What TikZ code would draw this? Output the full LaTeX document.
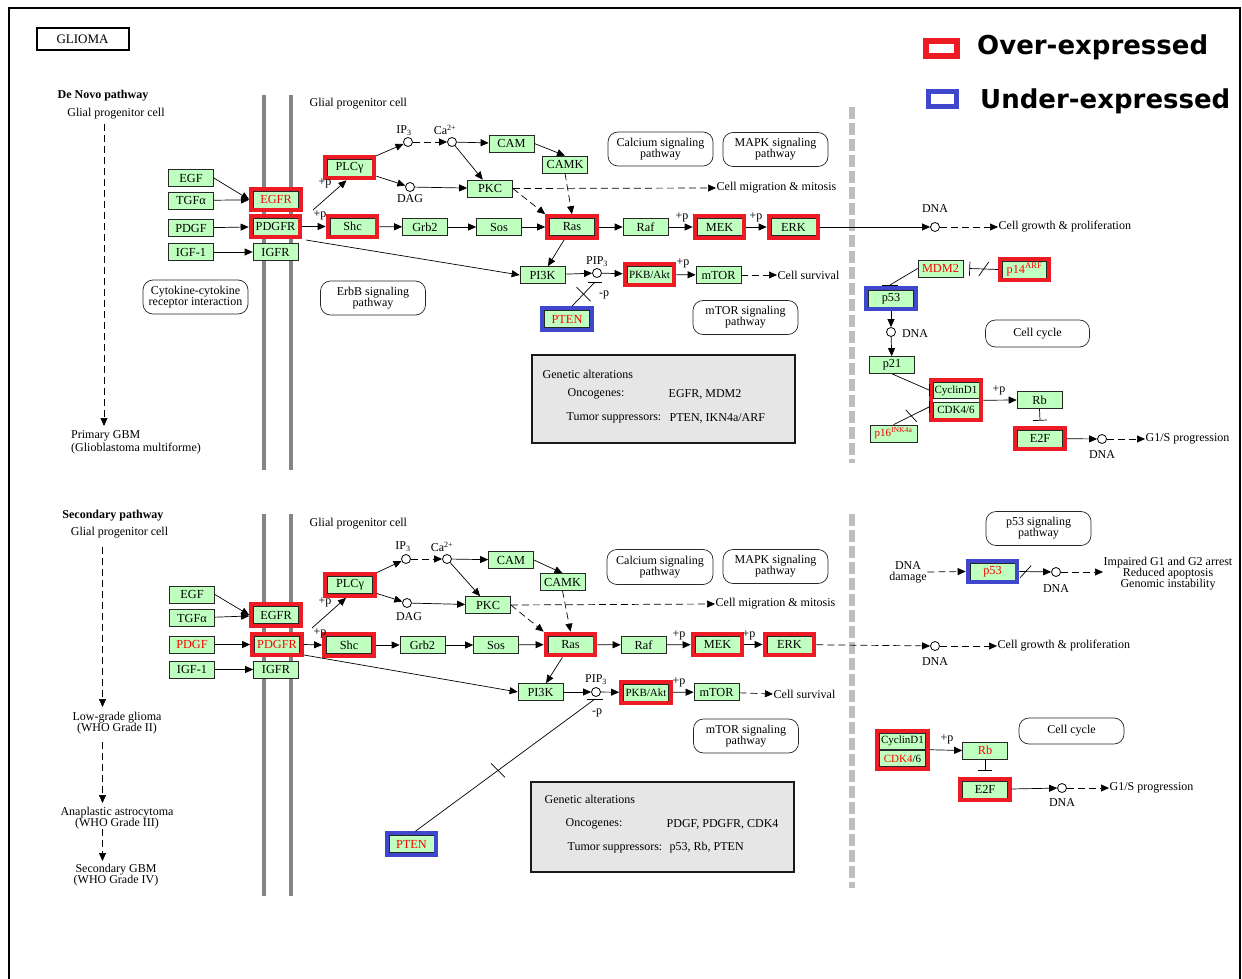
\documentclass[tikz,border=0pt]{standalone}
\usepackage{fontspec}
\setmainfont{Liberation Serif}
\newfontfamily\legfont{DejaVu Sans}
\usetikzlibrary{arrows.meta,fit}
\definecolor{kgreen}{HTML}{BFFFBF}
\definecolor{kred}{HTML}{ED1C24}
\definecolor{kblue}{HTML}{3F48CC}
\definecolor{ktxt}{HTML}{FF0000}
\definecolor{kmem}{HTML}{858585}
\definecolor{kdash}{HTML}{BEBEBE}
\definecolor{kbox}{HTML}{E6E6E6}
\newcommand{\gf}{\fontsize{12.3}{12}\selectfont}
\newcommand{\gfs}{\fontsize{11}{11}\selectfont}
\newcommand{\tf}{\fontsize{12}{12}\selectfont}
\newcommand{\tft}{\fontsize{12}{11}\selectfont}
\tikzset{
  gene/.style={draw=black!85, fill=kgreen, minimum width=45pt, minimum height=17pt, inner sep=0pt, font=\gf, line width=0.7pt},
  hlr/.style={draw=kred, line width=4pt, inner sep=2pt},
  hlb/.style={draw=kblue, line width=4pt, inner sep=2pt},
  pway/.style={draw=black!85, rounded corners=10pt, minimum width=105pt, minimum height=34pt, align=center, font=\tft, line width=0.7pt, inner sep=1pt},
  cpd/.style={circle, draw, fill=white, minimum size=9pt, inner sep=0pt, line width=0.8pt},
  act/.style={-{Triangle[length=8pt,width=7pt]}, line width=0.7pt},
  dact/.style={act, dash pattern=on 7pt off 4pt},
  tline/.style={line width=0.7pt},
  inh/.style={-{Bar[width=14pt]}, line width=0.7pt},
  lbl/.style={font=\tf, inner sep=0.5pt},
  memb/.style={draw=kmem, line width=4pt},
  sepline/.style={draw=kdash, line width=6pt, dash pattern=on 12pt off 4pt},
  gabox/.style={draw=black!90, line width=2pt, fill=kbox, minimum width=263pt, minimum height=88pt, inner sep=0pt},
  legtxt/.style={font=\legfont\bfseries\fontsize{26}{26}\selectfont, inner sep=0pt, anchor=west}
}
\begin{document}
\begin{tikzpicture}[x=1pt,y=-1pt]
\useasboundingbox (0,0) rectangle (1242,979);
\fill[white] (0,0) rectangle (1242,979);
\draw[line width=1.5pt] (9,979) -- (9,8) -- (1240,8) -- (1240,979);

% ---------- title and legend ----------
\node[draw, line width=2pt, minimum width=92pt, minimum height=22pt, inner sep=0pt, font=\fontsize{13}{13}\selectfont] (title) at (82.5,39.5) {GLIOMA};
\node[draw=kred, line width=6pt, minimum width=31pt, minimum height=15pt, inner sep=0pt] (legR) at (941.5,48.5) {};
\node[legtxt] (legRt) at (977,47) {Over-expressed};
\node[draw=kblue, line width=4.7pt, minimum width=28pt, minimum height=15pt, inner sep=0pt] (legB) at (942.5,99) {};
\node[legtxt] (legBt) at (980,101) {Under-expressed};

% =================== DE NOVO PATHWAY ===================
\node[font=\bfseries\tf, inner sep=0pt] (aHead) at (103,96) {De Novo pathway};
\node[lbl] (aGlial) at (116,114) {Glial progenitor cell};
\coordinate (aL1) at (104,124);
\coordinate (aL2) at (104,426);
\draw[dact] (aL1) -- (aL2);
\node[font=\fontsize{12}{13}\selectfont, inner sep=0pt, anchor=north west, align=left] (aPrim) at (71,430) {Primary GBM\\(Glioblastoma multiforme)};

\draw[memb] (264,95) -- (264,470);
\draw[memb] (291,95) -- (291,470);
\draw[sepline] (852,107) -- (852,463);
\node[lbl, anchor=west] (aGlial2) at (309,104) {Glial progenitor cell};

% pathway boxes
\node[pway] (aCyt) at (195.5,297) {Cytokine-cytokine\\receptor interaction};
\node[pway] (aErbB) at (373,298) {ErbB signaling\\pathway};
\node[pway] (aCal) at (660.5,149) {Calcium signaling\\pathway};
\node[pway] (aMAPK) at (775.5,149.5) {MAPK signaling\\pathway};
\node[pway] (amTORs) at (745.5,317.5) {mTOR signaling\\pathway};
\node[pway, minimum height=27pt, minimum width=104pt] (aCC) at (1037.5,333.5) {Cell cycle};

% genetic alterations
\node[gabox] (aGA) at (663.5,399) {};
\node[lbl, anchor=west] (aGA1) at (542,374) {Genetic alterations};
\node[lbl, anchor=west] (aGA2) at (567,394) {Oncogenes:};
\node[lbl, anchor=west] (aGA3) at (668,394) {EGFR, MDM2};
\node[lbl, anchor=west] (aGA4) at (566,418) {Tumor suppressors:};
\node[lbl, anchor=west] (aGA5) at (669,418) {PTEN, IKN4a/ARF};

% genes
\node[gene] (aEGF) at (191,178) {EGF};
\node[gene] (aTGF) at (191,200.5) {TGFα};
\node[gene] (aPDGF) at (191,228) {PDGF};
\node[gene] (aIGF) at (191,252) {IGF-1};
\node[gene, text=ktxt] (aEGFR) at (276,199.5) {EGFR};
\node[gene] (aPDGFR) at (275.5,226.5) {PDGFR};
\node[gene] (aIGFR) at (275.5,252) {IGFR};
\node[gene] (aPLC) at (349.5,167.5) {PLCγ};
\node[gene] (aShc) at (352.5,226.5) {Shc};
\node[gene] (aGrb2) at (425,227) {Grb2};
\node[gene] (aSos) at (499,227) {Sos};
\node[gene] (aRas) at (572,227) {Ras};
\node[gene] (aRaf) at (645.5,227) {Raf};
\node[gene] (aMEK) at (719.5,227) {MEK};
\node[gene] (aERK) at (793.5,227) {ERK};
\node[gene] (aCAM) at (511.5,143.5) {CAM};
\node[gene] (aCAMK) at (565,164.5) {CAMK};
\node[gene] (aPKC) at (490,188.5) {PKC};
\node[gene] (aPI3K) at (542.5,275) {PI3K};
\node[gene, font=\gfs] (aPKB) at (649.5,274.5) {PKB/Akt};
\node[gene] (amTOR) at (718.5,275) {mTOR};
\node[gene, text=ktxt] (aPTEN) at (567,319) {PTEN};
\node[gene, text=ktxt] (aMDM2) at (940.5,268.5) {MDM2};
\node[gene, text=ktxt, minimum width=44pt] (ap14) at (1024.5,269.5) {p14\textsuperscript{ARF}};
\node[gene] (ap53) at (891,298.5) {p53};
\node[gene] (ap21) at (892,365) {p21};
\node[gene, font=\gfs, minimum width=46pt, minimum height=16pt] (aCyc) at (956,390.5) {CyclinD1};
\node[gene, font=\gfs, minimum width=46pt, minimum height=16pt] (aCDK) at (956,410) {CDK4/6};
\node[gene] (aRb) at (1039.5,400) {Rb};
\node[gene] (aE2F) at (1040,438.5) {E2F};
\node[gene, text=ktxt, font=\gfs, minimum width=47pt] (ap16) at (893.5,433.5) {p16\textsuperscript{INK4a}};

% highlights
\node[hlr, fit=(aEGFR)] (aEGFRh) {};
\node[hlr, fit=(aPDGFR)] (aPDGFRh) {};
\node[hlr, fit=(aPLC)] (aPLCh) {};
\node[hlr, fit=(aShc)] (aShch) {};
\node[hlr, fit=(aRas)] (aRash) {};
\node[hlr, fit=(aMEK)] (aMEKh) {};
\node[hlr, fit=(aERK)] (aERKh) {};
\node[hlr, fit=(aPKB)] (aPKBh) {};
\node[hlb, fit=(aPTEN)] (aPTENh) {};
\node[hlr, fit=(ap14)] (ap14h) {};
\node[hlb, fit=(ap53)] (ap53h) {};
\node[hlr, fit=(aCyc)(aCDK)] (aCych) {};
\node[hlr, fit=(aE2F)] (aE2Fh) {};

% compounds
\node[cpd] (aIP3) at (408,142) {};
\node[cpd] (aCa) at (452,142) {};
\node[cpd] (aDAG) at (410,187) {};
\node[cpd] (aPIP3) at (597,273) {};
\node[cpd] (aDNA1) at (935,227) {};
\node[cpd] (aDNA2) at (891,332) {};
\node[cpd] (aDNA3) at (1102,439) {};
\node[lbl] (aIP3l) at (404,131) {IP\textsubscript{3}};
\node[lbl] (aCal2) at (445,130) {Ca\textsuperscript{2+}};
\node[lbl] (aDAGl) at (410,199) {DAG};
\node[lbl] (aPIP3l) at (597,262) {PIP\textsubscript{3}};
\node[lbl] (aDNA1l) at (935,209) {DNA};
\node[lbl] (aDNA2l) at (915,334) {DNA};
\node[lbl] (aDNA3l) at (1102,455) {DNA};

% phosphorylation labels
\node[lbl] (ap1) at (325,183) {+p};
\node[lbl] (ap2) at (320,215) {+p};
\node[lbl] (ap3) at (682,217) {+p};
\node[lbl] (ap4) at (756,217) {+p};
\node[lbl] (ap5) at (683,263) {+p};
\node[lbl] (ap6) at (999,390) {+p};
\node[lbl] (amp) at (604,295) {-p};

% outcome texts
\node[lbl, anchor=west] (aMig) at (716,188) {Cell migration \& mitosis};
\node[lbl, anchor=west] (aGrow) at (998,227) {Cell growth \& proliferation};
\node[lbl, anchor=west] (aSurv) at (777,275) {Cell survival};
\node[lbl, anchor=west] (aG1S) at (1145,439) {G1/S progression};

% edges
\draw[act] (aEGF.east) -- (aEGFRh.west);
\draw[act] (aTGF) -- (aEGFRh);
\draw[act] (aPDGF) -- (aPDGFRh);
\draw[act] (aIGF) -- (aIGFR);
\coordinate (aRTK) at (313,210);
\draw[act] (aRTK) -- ([xshift=-3pt]aPLCh.south);
\draw[act] (aPDGFRh.east) -- (aShch.west);
\coordinate (aRTK2) at (306,240);
\draw[act] (aRTK2) -- (aPI3K.west);
\draw[act] (aPLCh) -- (aIP3);
\draw[act] (aPLCh) -- (aDAG);
\draw[dact] (aIP3) -- (aCa);
\draw[act] (aCa) -- (aCAM);
\draw[act] (aCa) -- (aPKC);
\draw[act] (aDAG) -- (aPKC);
\draw[act] (aCAM.east) -- (aCAMK.north);
\draw[dact] (aCAMK.south) -- (aRash.north);
\draw[dact] (aPKC.east) -- (aRash.north west);
\draw[dact] (aPKC.east) -- (aMig.west);
\draw[act] (aShch) -- (aGrb2);
\draw[act] (aGrb2) -- (aSos);
\draw[act] (aSos) -- (aRash);
\draw[act] (aRash) -- (aRaf);
\draw[act] (aRaf) -- (aMEKh);
\draw[act] (aMEKh) -- (aERKh);
\draw[act] (aERKh) -- (aDNA1);
\draw[dact] (aDNA1) -- (aGrow.west);
\draw[act] (aRash) -- (aPI3K);
\draw[act] (aPI3K) -- (aPIP3);
\draw[act] (aPIP3) -- (aPKBh);
\draw[act] (aPKBh) -- (amTOR);
\draw[dact] (amTOR) -- (aSurv.west);
% PTEN inhibition
\coordinate (aPbar) at (595,282);
\draw[tline] ([xshift=5pt]aPTENh.north) -- coordinate[pos=0.5] (aPx) (aPbar);
\draw[tline] ([xshift=-7pt]aPbar) -- ([xshift=7pt]aPbar);
\draw[tline] ([shift={(-7pt,7pt)}]aPx) -- ([shift={(7pt,-7pt)}]aPx);
% p14 -| MDM2
\draw[inh] (ap14h.west) -- coordinate[pos=0.5] (aMx) ([xshift=6pt]aMDM2.east);
\draw[tline] ([shift={(-5pt,-7pt)}]aMx) -- ([shift={(5pt,7pt)}]aMx);
% MDM2 -| p53
\coordinate (aMbar) at (890,285);
\draw[tline] (aMDM2.west) -- (aMbar);
\draw[tline] ([xshift=-8pt]aMbar) -- ([xshift=8pt]aMbar);
\draw[act] (ap53h) -- (aDNA2);
\draw[act] (aDNA2) -- (ap21);
% p21 -| CyclinD1
\coordinate (aCbar1) at (929,390);
\draw[tline] (ap21.south) -- (aCbar1);
\draw[tline] ([yshift=6pt]aCbar1) -- ([yshift=-6pt]aCbar1);
% p16 -| CDK4/6
\coordinate (aCbar2) at (929,407);
\draw[tline] (ap16.north) -- coordinate[pos=0.5] (aCx) (aCbar2);
\draw[tline] ([yshift=6pt]aCbar2) -- ([yshift=-6pt]aCbar2);
\draw[tline] ([shift={(-5.5pt,6pt)}]aCx) -- ([shift={(5.5pt,-6pt)}]aCx);
\draw[act] (aCych.east) -- (aRb.west);
\draw[inh] (aRb.south) -- ([yshift=5pt]aE2Fh.north);
\draw[act] (aE2Fh) -- (aDNA3);
\draw[dact] (aDNA3) -- (aG1S.west);

% =================== SECONDARY PATHWAY ===================
\node[font=\bfseries\tf, inner sep=0pt] (bHead) at (113,516) {Secondary pathway};
\node[lbl] (bGlial) at (119.5,533) {Glial progenitor cell};
\node[font=\tft, inner sep=0pt, align=center] (bLow) at (117,723) {Low-grade glioma\\(WHO Grade II)};
\node[font=\tft, inner sep=0pt, align=center] (bAna) at (117,818) {Anaplastic astrocytoma\\(WHO Grade III)};
\node[font=\tft, inner sep=0pt, align=center] (bSec) at (116,875.5) {Secondary GBM\\(WHO Grade IV)};
\coordinate (bL1) at (102.5,547);
\coordinate (bL2) at (102.5,707);
\coordinate (bL3) at (102.5,742);
\coordinate (bL4) at (102.5,803);
\coordinate (bL5) at (102.5,829);
\coordinate (bL6) at (102.5,861);
\draw[dact] (bL1) -- (bL2);
\draw[dact] (bL3) -- (bL4);
\draw[dact] (bL5) -- (bL6);

\draw[memb] (264,514) -- (264,896);
\draw[memb] (291,514) -- (291,896);
\draw[sepline] (852,514) -- (852,888);
\node[lbl, anchor=west] (bGlial2) at (309,524) {Glial progenitor cell};

\node[pway, minimum width=106pt, minimum height=35pt] (bCal) at (660,567) {Calcium signaling\\pathway};
\node[pway] (bMAPK) at (775.5,566.5) {MAPK signaling\\pathway};
\node[pway] (bmTORs) at (746,736) {mTOR signaling\\pathway};
\node[pway] (bp53s) at (1038.5,528.5) {p53 signaling\\pathway};
\node[pway, minimum height=26pt] (bCC) at (1071.5,731) {Cell cycle};

\node[gabox, minimum height=90pt] (bGA) at (662.5,826.5) {};
\node[lbl, anchor=west] (bGA1) at (544,799) {Genetic alterations};
\node[lbl, anchor=west] (bGA2) at (565,824) {Oncogenes:};
\node[lbl, anchor=west] (bGA3) at (666,824) {PDGF, PDGFR, CDK4};
\node[lbl, anchor=west] (bGA4) at (567,848) {Tumor suppressors:};
\node[lbl, anchor=west] (bGA5) at (669,848) {p53, Rb, PTEN};

% genes
\node[gene] (bEGF) at (192,594.5) {EGF};
\node[gene] (bTGF) at (192,618) {TGFα};
\node[gene, text=ktxt] (bPDGF) at (192,644.5) {PDGF};
\node[gene] (bIGF) at (192,669.5) {IGF-1};
\node[gene] (bEGFR) at (276,615) {EGFR};
\node[gene, text=ktxt] (bPDGFR) at (277,644.5) {PDGFR};
\node[gene] (bIGFR) at (276,669.5) {IGFR};
\node[gene] (bPLC) at (350,585) {PLCγ};
\node[gene] (bShc) at (349,645) {Shc};
\node[gene] (bGrb2) at (422.5,645) {Grb2};
\node[gene] (bSos) at (496,645) {Sos};
\node[gene] (bRas) at (570.5,644.5) {Ras};
\node[gene] (bRaf) at (643.5,645) {Raf};
\node[gene] (bMEK) at (717.5,644.5) {MEK};
\node[gene] (bERK) at (789.5,644.5) {ERK};
\node[gene] (bCAM) at (511,560) {CAM};
\node[gene] (bCAMK) at (562.5,582) {CAMK};
\node[gene] (bPKC) at (488,605) {PKC};
\node[gene] (bPI3K) at (540.5,692) {PI3K};
\node[gene, font=\gfs] (bPKB) at (646,692.5) {PKB/Akt};
\node[gene] (bmTOR) at (716.5,692) {mTOR};
\node[gene, text=ktxt] (bPTEN) at (411.5,844) {PTEN};
\node[gene, text=ktxt] (bp53) at (992.5,571.5) {p53};
\node[gene, font=\gfs, minimum width=46pt, minimum height=16pt] (bCyc) at (902.5,741) {CyclinD1};
\node[gene, font=\gfs, minimum width=46pt, minimum height=16pt] (bCDK) at (902.5,758.5) {\textcolor{ktxt}{CDK4}/6};
\node[gene, text=ktxt] (bRb) at (985,750.5) {Rb};
\node[gene] (bE2F) at (985,789.5) {E2F};

\node[hlr, fit=(bEGFR)] (bEGFRh) {};
\node[hlr, fit=(bPDGFR)] (bPDGFRh) {};
\node[hlr, fit=(bPLC)] (bPLCh) {};
\node[hlr, fit=(bShc)] (bShch) {};
\node[hlr, fit=(bRas)] (bRash) {};
\node[hlr, fit=(bMEK)] (bMEKh) {};
\node[hlr, fit=(bERK)] (bERKh) {};
\node[hlr, fit=(bPKB)] (bPKBh) {};
\node[hlb, fit=(bPTEN)] (bPTENh) {};
\node[hlb, fit=(bp53)] (bp53h) {};
\node[hlr, fit=(bCyc)(bCDK)] (bCych) {};
\node[hlr, fit=(bE2F)] (bE2Fh) {};

\node[cpd] (bIP3) at (406,559) {};
\node[cpd] (bCa) at (447,559) {};
\node[cpd] (bDAG) at (407,603) {};
\node[cpd] (bPIP3) at (596,692) {};
\node[cpd] (bDNA1) at (1056,572) {};
\node[cpd] (bDNA2) at (935,646) {};
\node[cpd] (bDNA3) at (1062,788) {};
\node[lbl] (bIP3l) at (403,547) {IP\textsubscript{3}};
\node[lbl] (bCal2) at (442,547) {Ca\textsuperscript{2+}};
\node[lbl] (bDAGl) at (409,617) {DAG};
\node[lbl] (bPIP3l) at (596,680) {PIP\textsubscript{3}};
\node[lbl] (bDNA1l) at (1056,589) {DNA};
\node[lbl] (bDNA2l) at (935,662) {DNA};
\node[lbl] (bDNA3l) at (1062,803) {DNA};

\node[lbl] (bp1) at (325,602) {+p};
\node[lbl] (bp2) at (320,633) {+p};
\node[lbl] (bp3) at (679,635) {+p};
\node[lbl] (bp4) at (749,635) {+p};
\node[lbl] (bp5) at (679,682) {+p};
\node[lbl] (bp6) at (947,739) {+p};
\node[lbl] (bmp) at (597,713) {-p};

\node[lbl, anchor=west] (bMig) at (715,604) {Cell migration \& mitosis};
\node[lbl, anchor=west] (bGrow) at (997,646) {Cell growth \& proliferation};
\node[lbl, anchor=west] (bSurv) at (773,694) {Cell survival};
\node[lbl, anchor=west] (bG1S) at (1109,788) {G1/S progression};
\node[font=\tft, inner sep=0.5pt, align=center] (bDNAd) at (908,572) {DNA\\damage};
\node[font=\tft, inner sep=0.5pt, align=center] (bImp) at (1168,573.5) {Impaired G1 and G2 arrest\\Reduced apoptosis\\Genomic instability};

\draw[act] (bEGF.east) -- (bEGFRh.west);
\draw[act] (bTGF) -- (bEGFRh);
\draw[act] (bPDGF) -- (bPDGFRh);
\draw[act] (bIGF) -- (bIGFR);
\coordinate (bRTK) at (312,628);
\draw[act] (bRTK) -- ([xshift=-4pt]bPLCh.south);
\draw[act] (bPDGFRh.east) -- (bShch.west);
\coordinate (bRTK2) at (304,655);
\draw[act] (bRTK2) -- (bPI3K.west);
\draw[act] (bPLCh) -- (bIP3);
\draw[act] (bPLCh) -- (bDAG);
\draw[dact] (bIP3) -- (bCa);
\draw[act] (bCa) -- (bCAM);
\draw[act] (bCa) -- (bPKC);
\draw[act] (bDAG) -- (bPKC);
\draw[act] (bCAM.east) -- (bCAMK.north);
\draw[dact] (bCAMK.south) -- (bRash.north);
\draw[dact] (bPKC.east) -- (bRash.north west);
\draw[dact] (bPKC.east) -- (bMig.west);
\draw[act] (bShch) -- (bGrb2);
\draw[act] (bGrb2) -- (bSos);
\draw[act] (bSos) -- (bRash);
\draw[act] (bRash) -- (bRaf);
\draw[act] (bRaf) -- (bMEKh);
\draw[act] (bMEKh) -- (bERKh);
\draw[dact] (bERKh) -- (bDNA2);
\draw[dact] (bDNA2) -- (bGrow.west);
\draw[act] (bRash) -- (bPI3K);
\draw[act] (bPI3K) -- (bPIP3);
\draw[act] (bPIP3) -- (bPKBh);
\draw[act] (bPKBh) -- (bmTOR);
\draw[dact] (bmTOR) -- (bSurv.west);
% PTEN
\coordinate (bPbar) at (595,699);
\draw[tline] ([xshift=4pt]bPTENh.north) -- coordinate[pos=0.46] (bPx) (bPbar);
\draw[tline] ([xshift=-8pt]bPbar) -- ([xshift=8pt]bPbar);
\draw[tline] ([shift={(-7pt,7pt)}]bPx) -- ([shift={(7pt,-7pt)}]bPx);
% p53
\draw[dact] (bDNAd.east) -- (bp53h.west);
\draw[act] (bp53h.east) -- coordinate[pos=0.2] (bpx) (bDNA1);
\draw[tline] ([shift={(-5.5pt,-6pt)}]bpx) -- ([shift={(5.5pt,6pt)}]bpx);
\draw[dact] (bDNA1) -- (bImp.west |- bDNA1);
% cell cycle
\draw[act] (bCych.east) -- (bRb.west);
\draw[inh] (bRb.south) -- ([yshift=6pt]bE2Fh.north);
\draw[act] (bE2Fh) -- (bDNA3);
\draw[dact] (bDNA3) -- (bG1S.west);
\end{tikzpicture}
\end{document}
